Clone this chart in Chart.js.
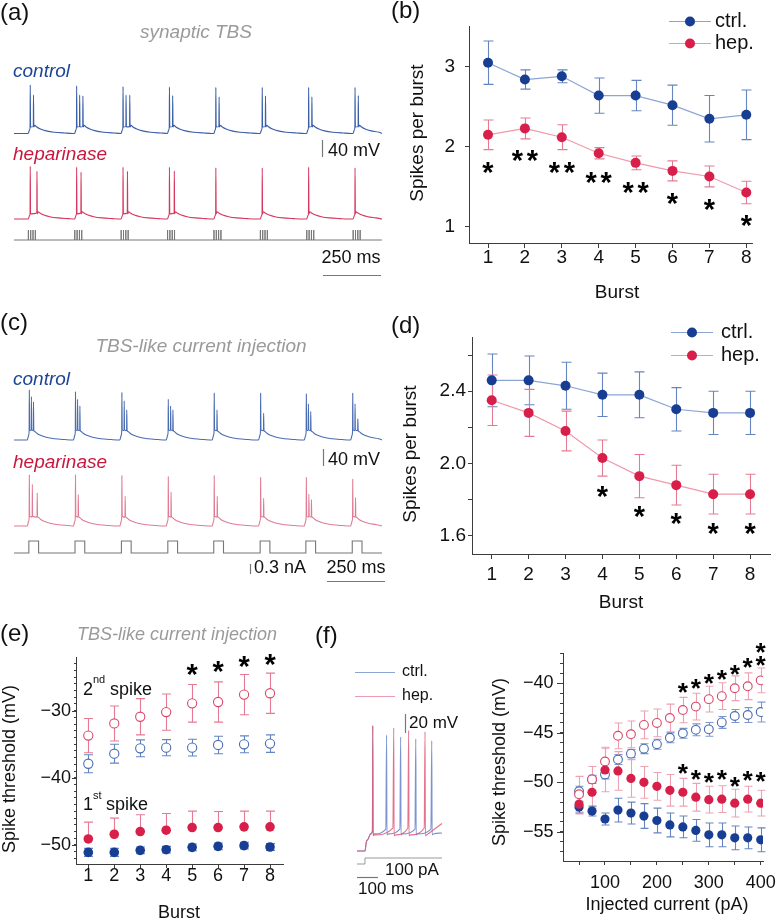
<!DOCTYPE html>
<html><head><meta charset="utf-8">
<script src="https://cdn.jsdelivr.net/npm/chart.js@4.4.1/dist/chart.umd.min.js"></script>
<style>
html,body{margin:0;padding:0;background:#fff;}
#root{position:relative;width:776px;height:920px;overflow:hidden;background:#fff;}
canvas{position:absolute;left:0;top:0;}
</style></head><body><div id="root"></div>
<script>
// ---------------- DATA ----------------
// (b) synaptic TBS, spikes per burst
const burstNo = [1, 2, 3, 4, 5, 6, 7, 8];
const bCtrl = [3.05, 2.84, 2.88, 2.64, 2.64, 2.52, 2.35, 2.40];
const bCtrlErr = [0.27, 0.12, 0.08, 0.22, 0.19, 0.25, 0.29, 0.31];
const bHep = [2.15, 2.23, 2.12, 1.92, 1.80, 1.70, 1.63, 1.43];
const bHepErr = [0.185, 0.13, 0.155, 0.07, 0.085, 0.125, 0.13, 0.14];
const bStarN = [1, 2, 2, 2, 2, 1, 1, 1];
const bStarY = [1.74, 1.88, 1.74, 1.61, 1.49, 1.35, 1.28, 1.07];
const bYTicks = [1, 2, 3];

// (d) TBS-like current injection, spikes per burst
const dCtrl = [2.46, 2.46, 2.43, 2.38, 2.38, 2.30, 2.28, 2.28];
const dCtrlErr = [0.146, 0.135, 0.13, 0.12, 0.127, 0.12, 0.12, 0.12];
const dHep = [2.35, 2.28, 2.18, 2.03, 1.93, 1.88, 1.83, 1.83];
const dHepErr = [0.14, 0.13, 0.11, 0.10, 0.12, 0.11, 0.11, 0.11];
const dStarBurst = [4, 5, 6, 7, 8];
const dStarY = [1.84, 1.73, 1.69, 1.64, 1.64];
const dYTicks = [1.6, 2.0, 2.4];
const dYMinor = [1.8, 2.2, 2.6];

// (e) spike threshold per burst (mV)
const eCtrl2 = [-37.9, -36.4, -35.6, -35.5, -35.5, -35.1, -35.0, -34.9];
const eCtrl2Err = [1.35, 1.4, 1.25, 1.2, 1.25, 1.3, 1.25, 1.3];
const eHep2 = [-33.7, -31.9, -30.9, -30.2, -28.9, -28.7, -27.6, -27.4];
const eHep2Err = [2.55, 2.6, 2.7, 2.7, 2.8, 3.0, 3.0, 3.0];
const eCtrl1 = [-51.1, -51.1, -50.8, -50.7, -50.35, -50.2, -50.1, -50.3];
const eCtrl1Err = [0.6, 0.6, 0.5, 0.5, 0.5, 0.5, 0.5, 0.5];
const eHep1 = [-49.1, -48.4, -48.0, -47.8, -47.4, -47.4, -47.3, -47.3];
const eHep1Err = [2.5, 2.4, 2.5, 2.5, 2.45, 2.4, 2.35, 2.35];
const eStarBurst = [5, 6, 7, 8];
const eStarY = [-23.95, -23.5, -22.8, -22.5];
const eYTicks = [-50, -40, -30];

// (f) spike threshold vs injected current (mV)
const fCurrent = [50, 75, 100, 125, 150, 175, 200, 225, 250, 275, 300, 325, 350, 375, 400];
const fHepOpen = [-51.2, -49.7, -47.9, -45.3, -45.15, -44.2, -44.0, -43.5, -42.7, -42.35, -41.6, -41.3, -40.5, -40.3, -39.7];
const fHepOpenErr = [1.8, 1.3, 1.45, 1.3, 1.35, 1.4, 1.4, 1.4, 1.28, 1.35, 1.3, 1.35, 1.25, 1.35, 1.25];
const fCtrlOpen = [-50.9, -49.7, -49.2, -47.7, -47.1, -46.6, -46.15, -45.5, -45.05, -44.7, -44.65, -43.95, -43.3, -43.2, -42.9];
const fCtrlOpenErr = [0.5, 0.4, 0.45, 0.5, 0.4, 0.5, 0.5, 0.5, 0.5, 0.6, 0.7, 0.6, 0.65, 0.75, 1.0];
const fHepFill = [-52.2, -51.0, -48.75, -48.85, -49.6, -50.0, -50.4, -50.8, -51.0, -51.5, -51.75, -51.7, -52.1, -51.7, -52.1];
const fHepFillErr = [1.0, 1.6, 2.2, 1.95, 1.9, 1.6, 1.4, 1.6, 1.4, 1.4, 1.35, 1.35, 1.4, 1.3, 1.3];
const fCtrlFill = [-52.5, -52.9, -53.7, -52.8, -53.1, -53.4, -53.85, -54.3, -54.5, -54.85, -55.3, -55.3, -55.6, -55.6, -55.8];
const fCtrlFillErr = [0.6, 0.5, 0.6, 1.2, 1.1, 1.25, 1.25, 1.2, 1.1, 1.1, 1.2, 1.2, 1.2, 1.1, 1.2];
const fStarUpX = [250, 275, 300, 325, 350, 375, 400, 400];
const fStarUpY = [-40.5, -40.1, -39.6, -39.2, -38.7, -38.0, -37.7, -36.4];
const fStarLowX = [250, 275, 300, 325, 350, 375, 400];
const fStarLowY = [-48.7, -49.25, -49.6, -49.3, -50.0, -49.4, -49.5];
const fXTicks = [100, 200, 300, 400];
const fXMinor = [50, 150, 250, 350];
const fYTicks = [-55, -50, -45, -40];

// (a) synaptic TBS traces: burst onsets (ms), spike offsets (ms) and peaks (mV)
const aOnsets = [70, 270, 470, 670, 870, 1070, 1270, 1470];
const aCtrlSpikeT = [[0, 14], [0, 13, 27], [0, 13, 29], [0, 14], [0, 14], [0, 14], [0, 14], [0, 14]];
const aCtrlSpikeV = [[43, 19], [41, 19, 17], [39, 19, 19], [38, 18], [37, 15], [37, 17], [37, 15], [37, 18]];
const aHepSpikeT = [[0, 29], [0, 19], [0, 19], [0, 21], [0], [0], [0], [0]];
const aHepSpikeV = [[54, 42], [52, 40], [52, 42], [52, 43], [50], [50], [52], [50]];
const aStimOnsets = [62, 262, 462, 662, 862, 1062, 1262, 1462];
const aPulseOffsets = [0, 10, 20, 30];
// (c) TBS-like current injection traces
const cOnsets = [66, 265, 465, 665, 863, 1063, 1260, 1460];
const cCtrlSpikeT = [[0, 9, 18], [0, 9, 19], [0, 10, 21], [0, 10, 20], [0, 12], [0, 13], [0, 9, 19], [0, 10, 22]];
const cCtrlSpikeV = [[47, 32, 20], [43, 26, 10], [41, 22, 1], [26, 10, 1], [40, 1], [40, -7], [38, 15, -3], [40, 15, -20]];
const cHepSpikeT = [[0, 13, 34], [0, 12], [0, 14], [0, 12], [0, 13], [0, 13], [0, 11, 22], [0, 12]];
const cHepSpikeV = [[50, 28, 8], [50, 4], [48, 0], [46, 10], [48, 0], [44, -5], [44, 5, -8], [40, -3]];
const cStepAmp = 0.36;      // nA
const cStepDur = 42;        // ms
// (f) example traces under step current
const fStepOn = 38, fStepAmp = 100;            // ms, pA
const fCtrlSpikeT = [75, 141, 208, 280, 356];
const fCtrlSpikeV = [52, 42, 40, 38, 36];
const fHepSpikeT = [75, 175, 246, 324];
const fHepSpikeV = [52, 49.5, 47, 45.6];

// ---------------- SETUP ----------------
const W = 776, H = 920;
const FF = '"Liberation Sans", Arial, Helvetica, sans-serif';
const AX = '#3c3c3c';
const BLUE = '#173e92', BLUE_LINE = '#8da5d4', BLUE_ERR = '#6585c0';
const RED = '#d71f4a', RED_LINE = '#ee99ab', RED_ERR = '#e57b93';
const GRAY_T = '#9a9a9a';

const hooks = {
  id: 'hooks',
  beforeDatasetsDraw(chart) { if (chart.canvas._before) chart.canvas._before(chart, chart.ctx); },
  afterDraw(chart) { if (chart.canvas._after) chart.canvas._after(chart, chart.ctx); }
};
Chart.register(hooks);

function newCanvas(before, after) {
  const c = document.createElement('canvas');
  c.width = W; c.height = H; c.style.width = W + 'px'; c.style.height = H + 'px';
  c._before = before; c._after = after;
  document.getElementById('root').appendChild(c);
  return c;
}

function txt(ctx, s, x, y, size, opt = {}) {
  ctx.save();
  ctx.font = (opt.italic ? 'italic ' : '') + (opt.bold ? 'bold ' : '') + size + 'px ' + FF;
  ctx.fillStyle = opt.color || '#111';
  ctx.textAlign = opt.align || 'left';
  ctx.textBaseline = 'middle';
  if (opt.rot) { ctx.translate(x, y); ctx.rotate(opt.rot); ctx.fillText(s, 0, 0); }
  else ctx.fillText(s, x, y);
  ctx.restore();
}

function star(ctx, x, y, h) {
  ctx.save();
  ctx.font = 'bold 100px ' + FF;
  let m = ctx.measureText('*');
  const h100 = m.actualBoundingBoxAscent + m.actualBoundingBoxDescent;
  const size = 100 * h / h100;
  ctx.font = 'bold ' + size + 'px ' + FF;
  m = ctx.measureText('*');
  const off = (m.actualBoundingBoxAscent - m.actualBoundingBoxDescent) / 2;
  ctx.fillStyle = '#000'; ctx.textAlign = 'center'; ctx.textBaseline = 'alphabetic';
  ctx.fillText('*', x, y + off);
  ctx.restore();
}

function errBars(chart, ctx, xs, ys, errs, color, cap, mode) {
  const xS = chart.scales.x, yS = chart.scales.y;
  ctx.save(); ctx.strokeStyle = color; ctx.lineWidth = 1.1;
  xs.forEach((xv, i) => {
    const px = Math.round(xS.getPixelForValue(xv)) + 0.5;
    const hi = yS.getPixelForValue(ys[i] + errs[i]);
    const lo = yS.getPixelForValue(mode === 'up' ? ys[i] : ys[i] - errs[i]);
    ctx.beginPath();
    ctx.moveTo(px, hi); ctx.lineTo(px, lo);
    ctx.moveTo(px - cap, hi); ctx.lineTo(px + cap, hi);
    if (mode !== 'up') { ctx.moveTo(px - cap, lo); ctx.lineTo(px + cap, lo); }
    ctx.stroke();
  });
  ctx.restore();
}

function majorTicks(chart, ctx, vals, len) {
  const yS = chart.scales.y, l = chart.chartArea.left;
  ctx.save(); ctx.strokeStyle = AX; ctx.lineWidth = 1;
  vals.forEach(v => {
    const py = Math.round(yS.getPixelForValue(v)) + 0.5;
    ctx.beginPath(); ctx.moveTo(l - len, py); ctx.lineTo(l, py); ctx.stroke();
  });
  ctx.restore();
}

function axisOptions(p) {
  return {
    responsive: false, animation: false, devicePixelRatio: 1, events: [],
    layout: { padding: { left: p.l - p.wy, right: W - p.r, top: p.t, bottom: H - p.b - p.hx } },
    plugins: { legend: { display: false }, tooltip: { enabled: false } },
    scales: {
      x: {
        type: 'linear', min: p.xmin, max: p.xmax,
        afterFit: s => { s.height = p.hx; },
        afterBuildTicks: s => { s.ticks = p.xticks.map(v => ({ value: v })); },
        ticks: { autoSkip: false, maxRotation: 0, padding: p.xpad, font: { family: FF, size: p.fs }, color: '#111', callback: p.xcb },
        grid: { display: true, drawOnChartArea: false, drawTicks: true, tickLength: p.xtl, tickColor: AX, tickWidth: 1 },
        border: { display: true, color: AX, width: 1 }
      },
      y: {
        type: 'linear', min: p.ymin, max: p.ymax,
        afterFit: s => { s.width = p.wy; },
        afterBuildTicks: s => { s.ticks = p.yticks.map(v => ({ value: v })); },
        ticks: { autoSkip: false, padding: p.ypad, font: { family: FF, size: p.fs }, color: '#111', callback: p.ycb },
        grid: { display: true, drawOnChartArea: false, drawTicks: true, tickLength: p.ytl, tickColor: AX, tickWidth: 1 },
        border: { display: true, color: AX, width: 1 }
      }
    }
  };
}

const pts = (xs, ys) => xs.map((x, i) => ({ x, y: ys[i] }));
const minus = v => (v < 0 ? '\u2212' : '') + Math.abs(v);

function legendRow(ctx, x1, x2, y, lineCol, dotCol, label, fs, tx) {
  ctx.save();
  ctx.strokeStyle = lineCol; ctx.lineWidth = 1.2;
  ctx.beginPath(); ctx.moveTo(x1, y + 0.5); ctx.lineTo(x2, y + 0.5); ctx.stroke();
  if (dotCol) { ctx.fillStyle = dotCol; ctx.beginPath(); ctx.arc((x1 + x2) / 2, y + 0.5, 5, 0, Math.PI * 2); ctx.fill(); }
  ctx.restore();
  txt(ctx, label, tx, y, fs);
}

// ---------------- PANEL (b) ----------------
{
  const p = { l: 469, t: 26, r: 752, b: 243, wy: 60, hx: 30, xmin: 0.485, xmax: 8.155, ymin: 0.8, ymax: 3.508,
    xticks: burstNo, yticks: bYTicks, fs: 19, xtl: 5, ytl: 4, xpad: -2, ypad: 10, xcb: v => String(v), ycb: v => String(v) };
  const cv = newCanvas(
    (ch, ctx) => {
      errBars(ch, ctx, burstNo, bCtrl, bCtrlErr, BLUE_ERR, 5, 'both');
      errBars(ch, ctx, burstNo, bHep, bHepErr, RED_ERR, 5, 'both');
    },
    (ch, ctx) => {
      const xS = ch.scales.x, yS = ch.scales.y;
      burstNo.forEach((b, i) => {
        const px = xS.getPixelForValue(b), py = yS.getPixelForValue(bStarY[i]);
        if (bStarN[i] === 1) star(ctx, px, py, 11);
        else { star(ctx, px - 7.5, py, 11); star(ctx, px + 7.5, py, 11); }
      });
      txt(ctx, '(b)', 391, 11, 24);
      txt(ctx, 'Spikes per burst', 418, 133, 19, { align: 'center', rot: -Math.PI / 2 });
      txt(ctx, 'Burst', 617, 293, 19, { align: 'center' });
      legendRow(ctx, 669, 711, 21, BLUE_LINE, BLUE, 'ctrl.', 20, 715);
      legendRow(ctx, 669, 711, 43, RED_LINE, RED, 'hep.', 20, 715);
    });
  new Chart(cv, {
    type: 'line',
    data: { datasets: [
      { data: pts(burstNo, bHep), borderColor: RED_LINE, borderWidth: 1.2, pointRadius: 5, pointBackgroundColor: RED, pointBorderWidth: 0, order: 0 },
      { data: pts(burstNo, bCtrl), borderColor: BLUE_LINE, borderWidth: 1.2, pointRadius: 5, pointBackgroundColor: BLUE, pointBorderWidth: 0, order: 1 }
    ] },
    options: axisOptions(p)
  });
}

// ---------------- PANEL (d) ----------------
{
  const p = { l: 472, t: 337, r: 770, b: 554, wy: 60, hx: 30, xmin: 0.466, xmax: 8.54, ymin: 1.499, ymax: 2.70,
    xticks: burstNo, yticks: dYTicks.concat(dYMinor), fs: 19, xtl: 5, ytl: 4, xpad: 4, ypad: 2,
    xcb: v => String(v), ycb: v => (dYTicks.some(t => Math.abs(t - v) < 1e-6) ? v.toFixed(1) : '') };
  const cv = newCanvas(
    (ch, ctx) => {
      errBars(ch, ctx, burstNo, dCtrl, dCtrlErr, BLUE_ERR, 5, 'both');
      errBars(ch, ctx, burstNo, dHep, dHepErr, RED_ERR, 5, 'both');
    },
    (ch, ctx) => {
      const xS = ch.scales.x, yS = ch.scales.y;
      dStarBurst.forEach((b, i) => star(ctx, xS.getPixelForValue(b), yS.getPixelForValue(dStarY[i]), 11));
      txt(ctx, '(d)', 391, 326, 24);
      txt(ctx, 'Spikes per burst', 411, 454, 19, { align: 'center', rot: -Math.PI / 2 });
      txt(ctx, 'Burst', 621, 603, 19, { align: 'center' });
      legendRow(ctx, 671, 713, 332, BLUE_LINE, BLUE, 'ctrl.', 20, 721);
      legendRow(ctx, 671, 713, 355, RED_LINE, RED, 'hep.', 20, 721);
    });
  new Chart(cv, {
    type: 'line',
    data: { datasets: [
      { data: pts(burstNo, dHep), borderColor: RED_LINE, borderWidth: 1.2, pointRadius: 5, pointBackgroundColor: RED, pointBorderWidth: 0, order: 0 },
      { data: pts(burstNo, dCtrl), borderColor: BLUE_LINE, borderWidth: 1.2, pointRadius: 5, pointBackgroundColor: BLUE, pointBorderWidth: 0, order: 1 }
    ] },
    options: axisOptions(p)
  });
}

// ---------------- PANEL (e) ----------------
{
  const yAll = []; for (let v = -52; v <= -23; v++) yAll.push(v);
  const p = { l: 76, t: 657, r: 283, b: 864, wy: 60, hx: 28, xmin: 0.526, xmax: 8.5, ymin: -52.83, ymax: -22.0,
    xticks: burstNo, yticks: yAll, fs: 18, xtl: 4, ytl: 2, xpad: -3, ypad: 3,
    xcb: v => String(v), ycb: v => (eYTicks.includes(v) ? minus(v) : '') };
  const cv = newCanvas(
    (ch, ctx) => {
      errBars(ch, ctx, burstNo, eHep2, eHep2Err, RED_ERR, 4.5, 'both');
      errBars(ch, ctx, burstNo, eCtrl2, eCtrl2Err, BLUE_ERR, 4.5, 'both');
      errBars(ch, ctx, burstNo, eHep1, eHep1Err, RED_ERR, 4.5, 'up');
      errBars(ch, ctx, burstNo, eCtrl1, eCtrl1Err, BLUE_ERR, 4.5, 'both');
    },
    (ch, ctx) => {
      const xS = ch.scales.x, yS = ch.scales.y;
      majorTicks(ch, ctx, eYTicks, 4);
      eStarBurst.forEach((b, i) => star(ctx, xS.getPixelForValue(b), yS.getPixelForValue(eStarY[i]), 11));
      txt(ctx, '(e)', 0, 634, 24);
      txt(ctx, 'TBS-like current injection', 177, 635, 18, { align: 'center', italic: true, color: GRAY_T });
      txt(ctx, 'Spike threshold (mV)', 10, 769, 18, { align: 'center', rot: -Math.PI / 2 });
      txt(ctx, 'Burst', 179, 913, 18, { align: 'center' });
      txt(ctx, '2', 83, 690, 18); txt(ctx, 'nd', 93, 680, 11); txt(ctx, 'spike', 110, 690, 18);
      txt(ctx, '1', 83, 805, 18); txt(ctx, 'st', 93, 796, 11); txt(ctx, 'spike', 106, 805, 18);
    });
  new Chart(cv, {
    type: 'scatter',
    data: { datasets: [
      { data: pts(burstNo, eHep2), pointRadius: 4.6, pointBackgroundColor: '#fff', pointBorderColor: '#d9486a', pointBorderWidth: 1.1, order: 0 },
      { data: pts(burstNo, eCtrl2), pointRadius: 4.6, pointBackgroundColor: '#fff', pointBorderColor: '#4a6cb2', pointBorderWidth: 1.1, order: 1 },
      { data: pts(burstNo, eHep1), pointRadius: 4.8, pointBackgroundColor: RED, pointBorderWidth: 0, order: 2 },
      { data: pts(burstNo, eCtrl1), pointRadius: 4.8, pointBackgroundColor: BLUE, pointBorderWidth: 0, order: 3 }
    ] },
    options: axisOptions(p)
  });
}

// ---------------- PANEL (f) scatter ----------------
{
  const yAll = []; for (let v = -57; v <= -37; v++) yAll.push(v);
  const p = { l: 563, t: 653, r: 763, b: 861, wy: 60, hx: 28, xmin: 19.1, xmax: 404.4, ymin: -57.94, ymax: -36.94,
    xticks: fXTicks.concat(fXMinor), yticks: yAll, fs: 18, xtl: 4, ytl: 3, xpad: 7.5, ypad: 6.5,
    xcb: v => (fXTicks.includes(v) ? String(v) : ''), ycb: v => (fYTicks.includes(v) ? minus(v) : '') };
  const cv = newCanvas(
    (ch, ctx) => {
      errBars(ch, ctx, fCurrent, fHepOpen, fHepOpenErr, '#eca2b2', 4, 'both');
      errBars(ch, ctx, fCurrent, fCtrlOpen, fCtrlOpenErr, '#7d97cc', 4, 'both');
      errBars(ch, ctx, fCurrent, fHepFill, fHepFillErr, '#eca2b2', 4, 'both');
      errBars(ch, ctx, fCurrent, fCtrlFill, fCtrlFillErr, BLUE_ERR, 4, 'both');
    },
    (ch, ctx) => {
      const xS = ch.scales.x, yS = ch.scales.y;
      majorTicks(ch, ctx, fYTicks, 6);
      fStarUpX.forEach((x, i) => star(ctx, xS.getPixelForValue(x), yS.getPixelForValue(fStarUpY[i]), 10));
      fStarLowX.forEach((x, i) => star(ctx, xS.getPixelForValue(x), yS.getPixelForValue(fStarLowY[i]), 10));
      txt(ctx, 'Spike threshold (mV)', 500, 762, 18, { align: 'center', rot: -Math.PI / 2 });
      txt(ctx, 'Injected current (pA)', 667, 905, 18, { align: 'center' });
    });
  new Chart(cv, {
    type: 'scatter',
    data: { datasets: [
      { data: pts(fCurrent, fHepFill), pointRadius: 4.6, pointBackgroundColor: RED, pointBorderWidth: 0, order: 0 },
      { data: pts(fCurrent, fCtrlFill), pointRadius: 4.6, pointBackgroundColor: BLUE, pointBorderWidth: 0, order: 1 },
      { data: pts(fCurrent, fHepOpen), pointRadius: 4.4, pointBackgroundColor: '#fff', pointBorderColor: '#d9486a', pointBorderWidth: 1.1, order: 2 },
      { data: pts(fCurrent, fCtrlOpen), pointRadius: 4.4, pointBackgroundColor: '#fff', pointBorderColor: '#4a6cb2', pointBorderWidth: 1.1, order: 3 }
    ] },
    options: axisOptions(p)
  });
}

// ---------------- TRACES ----------------
// decay shape of the after-burst depolarisation: [ms after last spike, fraction remaining]
const decayShape = [[5, 1], [14, 0.8], [30, 0.55], [55, 0.32], [90, 0.15], [135, 0.05], [170, 0]];

function burstTrace(onsets, spT, spV, s) {
  const out = [{ x: 0, y: s.base }];
  onsets.forEach((t0, k) => {
    const ts = spT[k], vs = spV[k];
    out.push({ x: t0 - 9, y: s.base });
    out.push({ x: t0 - 2.5, y: s.pre });
    ts.forEach((dt, i) => {
      const t = t0 + dt;
      out.push({ x: t - 0.7, y: s.thr });
      out.push({ x: t, y: vs[i] });
      out.push({ x: t + 1.4, y: s.trough });
    });
    const tl = t0 + ts[ts.length - 1];
    decayShape.forEach(([d, f]) => { if (tl + d < (onsets[k + 1] || s.tEnd) - 10) out.push({ x: tl + d, y: s.base + (s.adp - s.base) * f }); });
  });
  out.push({ x: s.tEnd, y: s.base });
  return out;
}

function traceChart(datasets, m, after) {
  // m: x pixel of x=0, px per ms, x range; y pixel of reference value, px per unit, y range
  const l = m.x0 + m.xmin * m.xs, r = m.x0 + m.xmax * m.xs;
  const t = m.y0 - (m.ymax - m.yv) * m.ys, b = m.y0 + (m.yv - m.ymin) * m.ys;
  const cv = newCanvas(null, after);
  return new Chart(cv, {
    type: 'line',
    data: { datasets: datasets.map(d => Object.assign({ pointRadius: 0, borderWidth: 1.1, tension: 0, fill: false, clip: false }, d)) },
    options: {
      responsive: false, animation: false, devicePixelRatio: 1, events: [],
      layout: { padding: { left: l, right: W - r, top: t, bottom: H - b } },
      plugins: { legend: { display: false }, tooltip: { enabled: false } },
      scales: { x: { type: 'linear', display: false, min: m.xmin, max: m.xmax }, y: { type: 'linear', display: false, min: m.ymin, max: m.ymax } }
    }
  });
}

function vBar(ch, ctx, x, yBottom, len) {
  const yS = ch.scales.y;
  const h = yS.getPixelForValue(0) - yS.getPixelForValue(len);
  ctx.save(); ctx.strokeStyle = '#777'; ctx.lineWidth = 1.2;
  ctx.beginPath(); ctx.moveTo(x + 0.5, yBottom); ctx.lineTo(x + 0.5, yBottom - h); ctx.stroke(); ctx.restore();
}
function hBar(ch, ctx, xRight, y, len) {
  const xS = ch.scales.x;
  const w = xS.getPixelForValue(len) - xS.getPixelForValue(0);
  ctx.save(); ctx.strokeStyle = '#777'; ctx.lineWidth = 1.2;
  ctx.beginPath(); ctx.moveTo(xRight - w, y + 0.5); ctx.lineTo(xRight, y + 0.5); ctx.stroke(); ctx.restore();
}

const TEND = 1586;
const aMapX = { x0: 14, xs: 0.232, xmin: 0, xmax: TEND };
// (a) control
traceChart([{ data: burstTrace(aOnsets, aCtrlSpikeT, aCtrlSpikeV, { base: -71, pre: -62, thr: -55, trough: -56, adp: -52, tEnd: TEND }), borderColor: '#3a5ea8', cubicInterpolationMode: 'monotone' }],
  Object.assign({ y0: 133, yv: -70, ys: 0.425, ymin: -80, ymax: 50 }, aMapX),
  (ch, ctx) => {
    txt(ctx, '(a)', 0, 13, 24);
    txt(ctx, 'synaptic TBS', 196, 33, 19, { align: 'center', italic: true, color: GRAY_T });
    txt(ctx, 'control', 13, 72, 19, { italic: true, color: '#1d4596' });
  });
// (a) heparinase
traceChart([{ data: burstTrace(aOnsets, aHepSpikeT, aHepSpikeV, { base: -70, pre: -62, thr: -56, trough: -58, adp: -53, tEnd: TEND }), borderColor: '#d5375e', cubicInterpolationMode: 'monotone' }],
  Object.assign({ y0: 219, yv: -70, ys: 0.425, ymin: -80, ymax: 60 }, aMapX),
  (ch, ctx) => {
    txt(ctx, 'heparinase', 13, 155, 19, { italic: true, color: '#c9173f' });
    vBar(ch, ctx, 322, 157, 40);
    txt(ctx, '40 mV', 328, 151, 18);
  });
// (a) stimulation raster
{
  const st = [{ x: 0, y: 0 }];
  aStimOnsets.forEach(t0 => aPulseOffsets.forEach(o => { st.push({ x: t0 + o, y: 0 }, { x: t0 + o, y: 1 }, { x: t0 + o, y: 0 }); }));
  st.push({ x: TEND, y: 0 });
  traceChart([{ data: st, borderColor: '#777', borderWidth: 1 }],
    Object.assign({ y0: 240, yv: 0, ys: 10, ymin: 0, ymax: 1 }, aMapX),
    (ch, ctx) => {
      txt(ctx, '250 ms', 351, 258, 18, { align: 'center' });
      hBar(ch, ctx, 381, 275, 250);
    });
}
// (c) control
traceChart([{ data: burstTrace(cOnsets, cCtrlSpikeT, cCtrlSpikeV, { base: -70, pre: -58, thr: -48, trough: -46, adp: -50, tEnd: TEND }), borderColor: '#4a6cb1', cubicInterpolationMode: 'monotone' }],
  Object.assign({ y0: 440, yv: -70, ys: 0.425, ymin: -80, ymax: 55 }, aMapX),
  (ch, ctx) => {
    txt(ctx, '(c)', 0, 323, 24);
    txt(ctx, 'TBS-like current injection', 201, 347, 19, { align: 'center', italic: true, color: GRAY_T });
    txt(ctx, 'control', 13, 380, 19, { italic: true, color: '#1d4596' });
  });
// (c) heparinase
traceChart([{ data: burstTrace(cOnsets, cHepSpikeT, cHepSpikeV, { base: -70, pre: -58, thr: -49, trough: -47, adp: -50, tEnd: TEND }), borderColor: '#e07c95', cubicInterpolationMode: 'monotone' }],
  Object.assign({ y0: 526, yv: -70, ys: 0.425, ymin: -80, ymax: 55 }, aMapX),
  (ch, ctx) => {
    txt(ctx, 'heparinase', 13, 463, 19, { italic: true, color: '#c9173f' });
    vBar(ch, ctx, 323, 466, 40);
    txt(ctx, '40 mV', 328, 460, 18);
  });
// (c) current steps
{
  const st = [{ x: 0, y: 0 }];
  cOnsets.forEach(t0 => { st.push({ x: t0 - 2, y: 0 }, { x: t0 - 2, y: cStepAmp }, { x: t0 - 2 + cStepDur, y: cStepAmp }, { x: t0 - 2 + cStepDur, y: 0 }); });
  st.push({ x: TEND, y: 0 });
  traceChart([{ data: st, borderColor: '#777', borderWidth: 1.1 }],
    Object.assign({ y0: 553, yv: 0, ys: 33.3, ymin: 0, ymax: 0.4 }, aMapX),
    (ch, ctx) => {
      vBar(ch, ctx, 250, 574, 0.3);
      txt(ctx, '0.3 nA', 254, 568, 18);
      txt(ctx, '250 ms', 356, 568, 18, { align: 'center' });
      hBar(ch, ctx, 385, 581, 250);
    });
}
// (f) example traces
function stepTrace(spT, spV, s) {
  const out = [{ x: 0, y: s.base }, { x: fStepOn, y: s.base }, { x: fStepOn + 6, y: s.base + 9 }, { x: fStepOn + 16, y: -67 }, { x: fStepOn + 27, y: -62 }];
  spT.forEach((t, i) => {
    if (i > 0) out.push({ x: t - 4, y: s.thr });
    else out.push({ x: t - 1.5, y: -59 });
    out.push({ x: t, y: spV[i] });
    out.push({ x: t + 1.6, y: s.trough });
    out.push({ x: t + 8, y: s.trough + 1 });
  });
  out.push({ x: 405, y: s.end });
  return out;
}
traceChart([
    { data: stepTrace(fHepSpikeT, fHepSpikeV, { base: -80, thr: -56, trough: -64, end: -51 }), borderColor: 'rgba(222,90,120,0.85)', cubicInterpolationMode: 'monotone' },
    { data: stepTrace(fCtrlSpikeT, fCtrlSpikeV, { base: -80, thr: -57, trough: -63, end: -61 }), borderColor: 'rgba(90,120,195,0.8)', cubicInterpolationMode: 'monotone' }
  ],
  { x0: 357, xs: 0.21, xmin: 0, xmax: 405, y0: 851, yv: -80, ys: 0.95, ymin: -85, ymax: 60 },
  (ch, ctx) => {
    txt(ctx, '(f)', 315, 636, 24);
    ctx.save(); ctx.lineWidth = 1.2;
    ctx.strokeStyle = '#8da5d4'; ctx.beginPath(); ctx.moveTo(355, 672.5); ctx.lineTo(395, 672.5); ctx.stroke();
    ctx.strokeStyle = '#ec9bb0'; ctx.beginPath(); ctx.moveTo(355, 696.5); ctx.lineTo(395, 696.5); ctx.stroke();
    ctx.restore();
    txt(ctx, 'ctrl.', 402, 672, 16);
    txt(ctx, 'hep.', 402, 696, 16);
    vBar(ch, ctx, 405, 733, 20);
    txt(ctx, '20 mV', 409, 723, 17);
    hBar(ch, ctx, 378, 877, 100);
    txt(ctx, '100 pA', 385, 870, 17);
    txt(ctx, '100 ms', 358, 889, 17);
  });
{
  const st = [{ x: 0, y: 0 }, { x: fStepOn, y: 0 }, { x: fStepOn, y: fStepAmp }, { x: 405, y: fStepAmp }];
  traceChart([{ data: st, borderColor: '#999', borderWidth: 1 }],
    { x0: 357, xs: 0.21, xmin: 0, xmax: 405, y0: 864, yv: 0, ys: 0.06, ymin: 0, ymax: 100 }, null);
}
</script>
</body></html>
